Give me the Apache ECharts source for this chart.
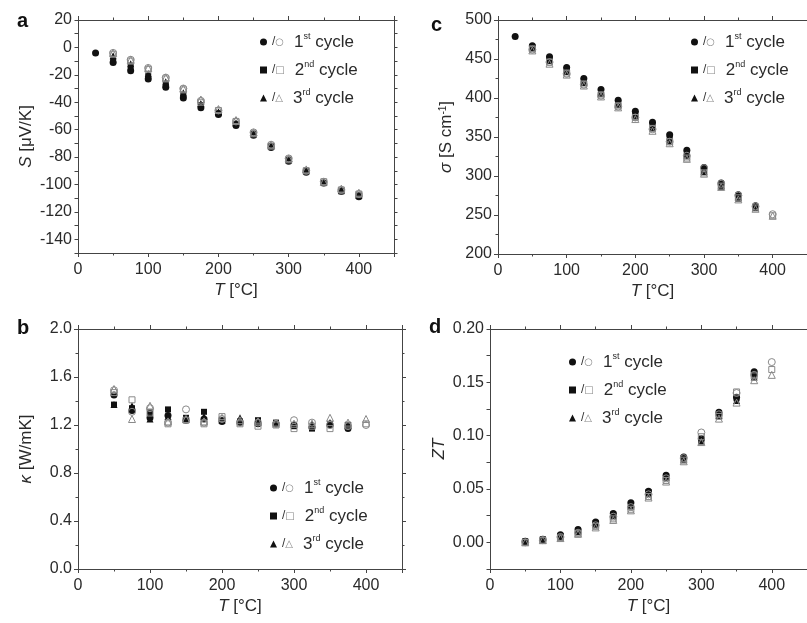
<!DOCTYPE html>
<html><head><meta charset="utf-8">
<script src="https://cdn.jsdelivr.net/npm/echarts@6/dist/echarts.min.js"></script>
<style>html,body{margin:0;padding:0;background:#fff}#c{width:807px;height:623px}</style>
</head><body><div id="c"></div>
<script>
// ---- data ----
const tempsAC = [25,50,75,100,125,150,175,200,225,250,275,300,325,350,375,400];
const tempsBD = [50,75,100,125,150,175,200,225,250,275,300,325,350,375,400];

const cycleNums = ['1','2','3'];
const cycleSuffix = ['st','nd','rd'];
const openGlyphs = ['○','□','△'];

// Panel a: Seebeck S [uV/K]
const S_c1_heat = [-4,-11,-17,-23,-29,-37,-44,-49,-57,-64,-73,-83,-91,-99,-105,-109];
const S_c1_cool = [null,-4,-9,-15,-22,-30,-39,-46,-54,-62,-71,-81,-90,-98,-104,-107];
const S_c2_heat = [null,-10,-14,-21,-27,-35,-42,-48,-56,-63,-72,-82,-90,-99,-105,-108];
const S_c2_cool = [null,-5,-10,-16,-23,-31,-40,-46,-54,-63,-72,-82,-90,-98,-104,-107];
const S_c3_heat = [null,-6,-12,-19,-25,-33,-41,-47,-55,-63,-72,-82,-90,-98,-104,-108];
const S_c3_cool = [null,-4,-9,-15,-22,-30,-38,-45,-53,-62,-71,-81,-89,-98,-103,-106];

// Panel c: conductivity sigma [S/cm]
const sig_c1_heat = [479,467,453,439,425,411,397,383,369,353,333,311,291,276,262,null];
const sig_c1_cool = [null,462,446,431,417,403,389,375,360,344,326,310,290,275,261,251];
const sig_c2_heat = [null,465,450,436,422,408,394,379,365,348,328,305,286,271,259,null];
const sig_c2_cool = [null,463,446,432,418,404,390,375,361,344,323,304,287,272,259,249];
const sig_c3_heat = [null,464,448,434,420,406,392,377,362,345,326,306,288,273,260,null];
const sig_c3_cool = [null,461,444,430,416,402,388,373,358,342,322,303,286,270,258,249];

// Panel b: thermal conductivity kappa [W/mK]
const k_c1_heat = [1.45,1.32,1.26,1.28,1.24,1.25,1.23,1.22,1.21,1.21,1.20,1.18,1.20,1.17,null];
const k_c1_cool = [1.49,1.31,1.34,1.22,1.33,1.22,1.25,1.22,1.22,1.21,1.24,1.22,1.20,1.19,1.20];
const k_c2_heat = [1.37,1.34,1.31,1.33,1.26,1.31,1.24,1.23,1.24,1.22,1.19,1.17,1.21,1.20,null];
const k_c2_cool = [1.47,1.41,1.30,1.21,1.24,1.21,1.27,1.21,1.19,1.20,1.17,1.19,1.17,1.20,1.21];
const k_c3_heat = [1.37,1.36,1.25,1.27,1.25,1.27,1.24,1.26,1.22,1.21,1.21,1.21,1.22,1.20,null];
const k_c3_cool = [1.50,1.25,1.36,1.23,1.25,1.23,1.26,1.24,1.23,1.22,1.21,1.21,1.26,1.22,1.25];

// Panel d: ZT
const zt_c1_heat = [0.001,0.003,0.007,0.012,0.019,0.027,0.037,0.048,0.063,0.080,0.097,0.122,0.136,0.160,null];
const zt_c1_cool = [0.000,0.002,0.005,0.009,0.016,0.024,0.033,0.045,0.060,0.079,0.103,0.120,0.140,0.157,0.169];
const zt_c2_heat = [0.001,0.003,0.006,0.011,0.018,0.026,0.035,0.047,0.062,0.079,0.096,0.121,0.135,0.158,null];
const zt_c2_cool = [0.000,0.002,0.004,0.008,0.015,0.022,0.031,0.043,0.058,0.077,0.099,0.118,0.141,0.156,0.162];
const zt_c3_heat = [0.001,0.002,0.005,0.010,0.017,0.025,0.034,0.046,0.061,0.078,0.095,0.119,0.133,0.155,null];
const zt_c3_cool = [0.000,0.002,0.004,0.008,0.014,0.021,0.030,0.042,0.057,0.076,0.094,0.116,0.131,0.152,0.157];

// ---- chart ----
const FONT = 'Liberation Sans, Arial, sans-serif';
const AXC = '#444';
const TXT = '#2a2a2a';
const OPEN = '#8a8a8a';
const symbols = ['circle','rect','triangle'];
const symSizes = [7,6,7];

function zip(temps, vals){ const out=[]; temps.forEach((t,i)=>{ if(vals[i]!==null && vals[i]!==undefined) out.push([t, vals[i]]); }); return out; }

const panels = [
  {grid:{left:78, top:20, width:316, height:233}, temps:tempsAC,
   y:{min:-150,max:20,interval:10,fmt:v=>(Math.round(v)%20===0?String(Math.round(v)):''), minor:false},
   yname:'{i|S} [μV/K]', sets:[[S_c1_heat,S_c1_cool],[S_c2_heat,S_c2_cool],[S_c3_heat,S_c3_cool]],
   label:'a', labelPos:{left:12,top:6}, legend:{left:255, top:27}},
  {grid:{left:78, top:329, width:324, height:240}, temps:tempsBD,
   y:{min:0,max:2.0,interval:0.4,fmt:v=>v.toFixed(1), minor:true},
   yname:'{i|κ} [W/mK]', sets:[[k_c1_heat,k_c1_cool],[k_c2_heat,k_c2_cool],[k_c3_heat,k_c3_cool]],
   label:'b', labelPos:{left:12,top:313}, legend:{left:265, top:473}},
  {grid:{left:498, top:20, width:317, height:234}, temps:tempsAC,
   y:{min:200,max:500,interval:50,fmt:v=>String(Math.round(v)), minor:true},
   yname:'{i|σ} [S cm{sup|-1}]', sets:[[sig_c1_heat,sig_c1_cool],[sig_c2_heat,sig_c2_cool],[sig_c3_heat,sig_c3_cool]],
   label:'c', labelPos:{left:426,top:10}, legend:{left:686, top:27}},
  {grid:{left:490, top:329, width:326, height:240}, temps:tempsBD,
   y:{min:-0.025,max:0.2,interval:0.025,fmt:v=>(Math.abs(Math.round(v/0.05)*0.05-v)<1e-9?v.toFixed(2):''), minor:false},
   yname:'{i|ZT}', sets:[[zt_c1_heat,zt_c1_cool],[zt_c2_heat,zt_c2_cool],[zt_c3_heat,zt_c3_cool]],
   label:'d', labelPos:{left:424,top:312}, legend:{left:564, top:347}}
];

const richName = {
  i:{fontStyle:'italic', fontSize:17, fontFamily:FONT, color:TXT},
  sup:{fontSize:10, fontFamily:FONT, color:TXT, verticalAlign:'top', lineHeight:12}
};

const grids=[], xAxes=[], yAxes=[], series=[], legends=[], titles=[];
const heatNames = cycleNums.map((n,k)=> n+cycleSuffix[k]+' cycle');

panels.forEach((p,gi)=>{
  grids.push(Object.assign({containLabel:false}, p.grid));
  const xBase = {type:'value', gridIndex:gi, min:0, max:450, interval:100,
    splitLine:{show:false},
    axisLine:{show:true, onZero:false, lineStyle:{color:AXC, width:1}},
    axisTick:{show:true, inside:false, length:4, lineStyle:{color:AXC}},
    minorTick:{show:true, splitNumber:2, length:2.5, lineStyle:{color:AXC}}};
  xAxes.push(Object.assign({}, xBase, {position:'bottom',
    axisLabel:{fontSize:16, color:TXT, fontFamily:FONT, margin:9, showMaxLabel:false},
    name:'{i|T} [°C]', nameLocation:'middle', nameGap:29,
    nameTextStyle:{fontSize:17, color:TXT, fontFamily:FONT, rich:richName}}));
  xAxes.push(Object.assign({}, xBase, {position:'top', axisLabel:{show:false}}));
  const yBase = {type:'value', gridIndex:gi, min:p.y.min, max:p.y.max, interval:p.y.interval,
    splitLine:{show:false},
    axisLine:{show:true, onZero:false, lineStyle:{color:AXC, width:1}},
    axisTick:{show:true, inside:false, length:p.y.minor?4:3.5, lineStyle:{color:AXC}},
    minorTick:{show:p.y.minor, splitNumber:2, length:2.5, lineStyle:{color:AXC}}};
  yAxes.push(Object.assign({}, yBase, {position:'left',
    axisLabel:{fontSize:16, color:TXT, fontFamily:FONT, margin:6, formatter:p.y.fmt},
    name:p.yname, nameLocation:'middle', nameGap: gi===3?42:43,
    nameTextStyle:{fontSize:17, color:TXT, fontFamily:FONT, rich:richName}}));
  yAxes.push(Object.assign({}, yBase, {position:'right', axisLabel:{show:false}}));

  p.sets.forEach((pair,k)=>{
    series.push({type:'scatter', name:heatNames[k], xAxisIndex:gi*2, yAxisIndex:gi*2,
      symbol:symbols[k], symbolSize:symSizes[k], data:zip(p.temps, pair[0]),
      itemStyle:{color:'#111', opacity:1}, z:2, emphasis:{disabled:true}});
  });
  p.sets.forEach((pair,k)=>{
    series.push({type:'scatter', name:heatNames[k]+' cooling', xAxisIndex:gi*2, yAxisIndex:gi*2,
      symbol:symbols[k], symbolSize:symSizes[k], data:zip(p.temps, pair[1]),
      itemStyle:{color:'rgba(255,255,255,0)', borderColor:OPEN, borderWidth:1, opacity:1}, z:3, emphasis:{disabled:true}});
  });

  legends.push({left:p.legend.left, top:p.legend.top, orient:'vertical', itemGap:9.5,
    itemWidth:7, itemHeight:7, selectedMode:false, data:heatNames,
    formatter:(name)=>{ const k=heatNames.indexOf(name);
      return '{sl|/}{op|'+openGlyphs[k]+'}{sp| }{tx|'+cycleNums[k]+'}{sup|'+cycleSuffix[k]+'}{tx| cycle}'; },
    textStyle:{fontFamily:FONT, color:TXT, fontSize:17, rich:{
      sl:{fontSize:12, color:'#333', fontFamily:FONT, lineHeight:20},
      op:{fontSize:10, color:OPEN, fontFamily:'DejaVu Sans', lineHeight:20},
      sp:{fontSize:17, width:10, lineHeight:20},
      tx:{fontSize:17, color:TXT, fontFamily:FONT, lineHeight:20},
      sup:{fontSize:9, color:TXT, fontFamily:FONT, verticalAlign:'top', lineHeight:11}
    }}});

  titles.push({text:p.label, left:p.labelPos.left, top:p.labelPos.top,
    textStyle:{fontSize:20, fontWeight:'bold', color:'#111', fontFamily:FONT}});
});

const chart = echarts.init(document.getElementById('c'), null, {renderer:'canvas'});
chart.setOption({
  animation:false, backgroundColor:'#fff',
  title:titles, grid:grids, xAxis:xAxes, yAxis:yAxes, legend:legends, series:series
});
</script></body></html>
